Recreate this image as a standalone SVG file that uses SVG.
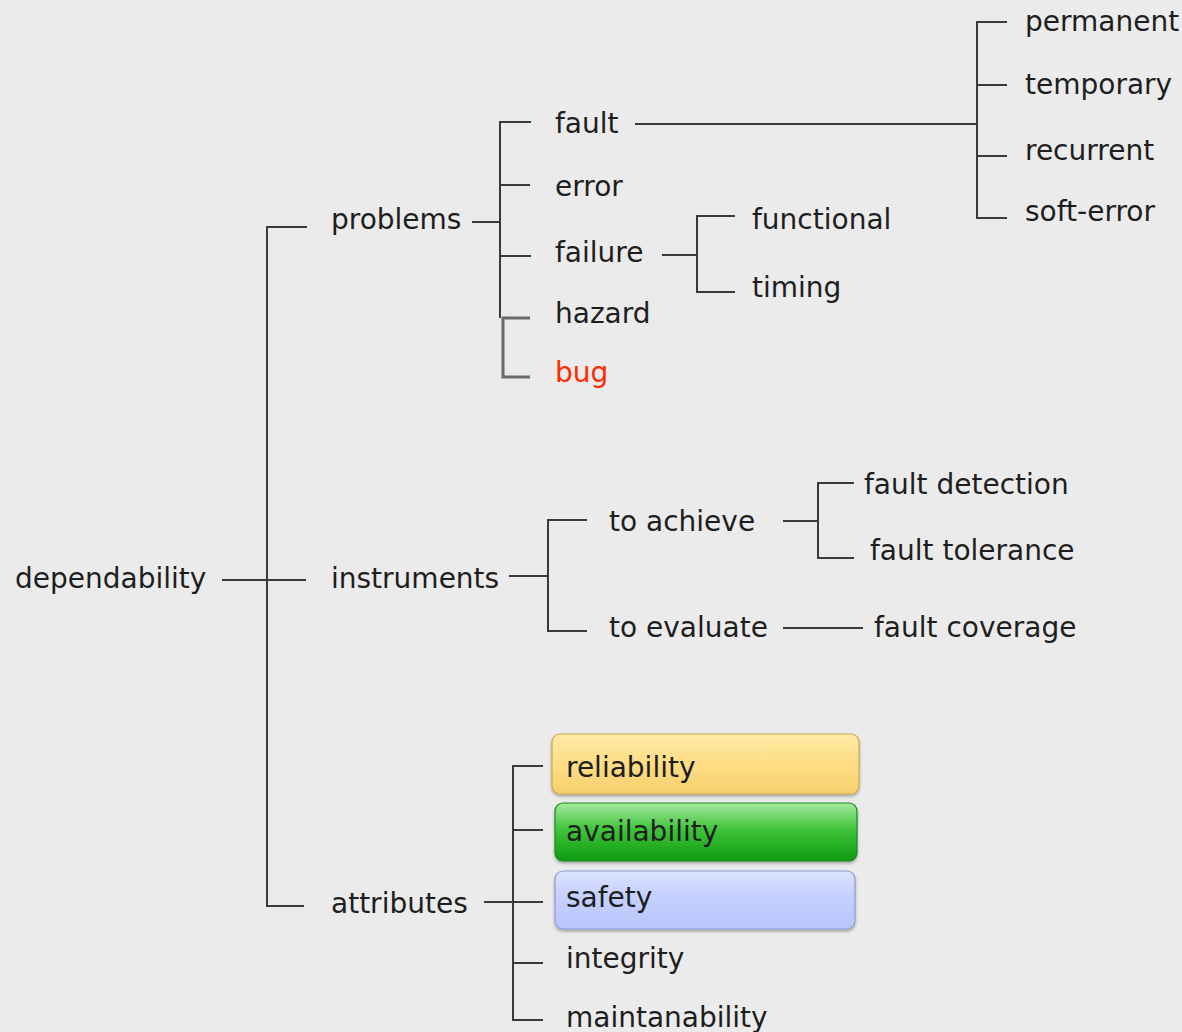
<svg xmlns="http://www.w3.org/2000/svg" width="1182" height="1032" viewBox="0 0 1182 1032">
  <style>
    text { font-family: "DejaVu Sans", Verdana, sans-serif; font-size: 28px; fill: #1e1e1e; }
    .ln { stroke: #3a3a3a; stroke-width: 2; fill: none; }
    .ln2 { stroke: #6a6a6a; stroke-width: 3; fill: none; }
    .box { stroke-width: 1.2; }
  </style>
  <defs>
    <linearGradient id="gYellow" x1="0" y1="0" x2="0" y2="1">
      <stop offset="0" stop-color="#ffeaa6"/>
      <stop offset="0.5" stop-color="#fedd85"/>
      <stop offset="1" stop-color="#f7cf6c"/>
    </linearGradient>
    <linearGradient id="gGreen" x1="0" y1="0" x2="0" y2="1">
      <stop offset="0" stop-color="#a6eaa0"/>
      <stop offset="0.45" stop-color="#3fc43a"/>
      <stop offset="1" stop-color="#109a12"/>
    </linearGradient>
    <linearGradient id="gBlue" x1="0" y1="0" x2="0" y2="1">
      <stop offset="0" stop-color="#dde4ff"/>
      <stop offset="0.4" stop-color="#c6d1ff"/>
      <stop offset="1" stop-color="#b8c5fb"/>
    </linearGradient>
    <filter id="shadow" x="-5%" y="-10%" width="110%" height="130%">
      <feDropShadow dx="0" dy="2" stdDeviation="1.5" flood-color="#000" flood-opacity="0.3"/>
    </filter>
  </defs>
  <rect width="1182" height="1032" fill="#ebebeb"/>

  <!-- connectors -->
  <g id="connectors">
    <!-- root -->
    <path class="ln" d="M222 580 H306"/>
    <path class="ln" d="M307 227 H267 V906 H304"/>
    <!-- problems -->
    <path class="ln" d="M472 222 H500"/>
    <path class="ln" d="M531 122 H500 V318"/>
    <path class="ln" d="M500 185 H530 M500 256 H531"/>
    <path class="ln2" d="M530 318 H503 V377 H530"/>
    <!-- fault -->
    <path class="ln" d="M635 124 H977"/>
    <path class="ln" d="M1007 22 H977 V218 H1007"/>
    <path class="ln" d="M977 85 H1007 M977 156 H1007"/>
    <!-- failure -->
    <path class="ln" d="M662 255 H697"/>
    <path class="ln" d="M735 216 H697 V292 H735"/>
    <!-- instruments -->
    <path class="ln" d="M509 576 H548"/>
    <path class="ln" d="M587 520 H548 V631 H587"/>
    <path class="ln" d="M783 521 H818"/>
    <path class="ln" d="M854 483 H818 V558 H854"/>
    <path class="ln" d="M783 628 H863"/>
    <!-- attributes -->
    <path class="ln" d="M484 902 H543"/>
    <path class="ln" d="M543 766 H513 V1020 H543"/>
    <path class="ln" d="M513 830 H543 M513 963 H543"/>
  </g>

  <g id="dependability"><text x="15" y="588">dependability</text></g>
  <g id="problems"><text x="331" y="229">problems</text></g>
  <g id="instruments"><text x="331" y="588">instruments</text></g>
  <g id="attributes"><text x="331" y="913">attributes</text></g>

  <g id="fault"><text x="555" y="133">fault</text></g>
  <g id="error"><text x="555" y="196">error</text></g>
  <g id="failure"><text x="555" y="262">failure</text></g>
  <g id="hazard"><text x="555" y="323">hazard</text></g>
  <g id="bug"><text x="555" y="382" style="fill:#ff2a00">bug</text></g>

  <g id="permanent"><text x="1025" y="31">permanent</text></g>
  <g id="temporary"><text x="1025" y="94">temporary</text></g>
  <g id="recurrent"><text x="1025" y="160">recurrent</text></g>
  <g id="soft-error"><text x="1025" y="221">soft-error</text></g>

  <g id="functional"><text x="752" y="229">functional</text></g>
  <g id="timing"><text x="752" y="297">timing</text></g>

  <g id="to-achieve"><text x="609" y="531">to achieve</text></g>
  <g id="to-evaluate"><text x="609" y="637">to evaluate</text></g>
  <g id="fault-detection"><text x="864" y="494">fault detection</text></g>
  <g id="fault-tolerance"><text x="870" y="560">fault tolerance</text></g>
  <g id="fault-coverage"><text x="874" y="637">fault coverage</text></g>

  <g id="reliability">
    <rect class="box" x="552" y="734" width="307" height="60" rx="8" fill="url(#gYellow)" stroke="#c8a850" filter="url(#shadow)"/>
    <text x="566" y="777">reliability</text>
  </g>
  <g id="availability">
    <rect class="box" x="555" y="803" width="302" height="58" rx="8" fill="url(#gGreen)" stroke="#1a8a1a" filter="url(#shadow)"/>
    <text x="566" y="841">availability</text>
  </g>
  <g id="safety">
    <rect class="box" x="555" y="871" width="300" height="58" rx="8" fill="url(#gBlue)" stroke="#8f9cd0" filter="url(#shadow)"/>
    <text x="566" y="907">safety</text>
  </g>
  <g id="integrity"><text x="566" y="968">integrity</text></g>
  <g id="maintanability"><text x="566" y="1027">maintanability</text></g>
</svg>
